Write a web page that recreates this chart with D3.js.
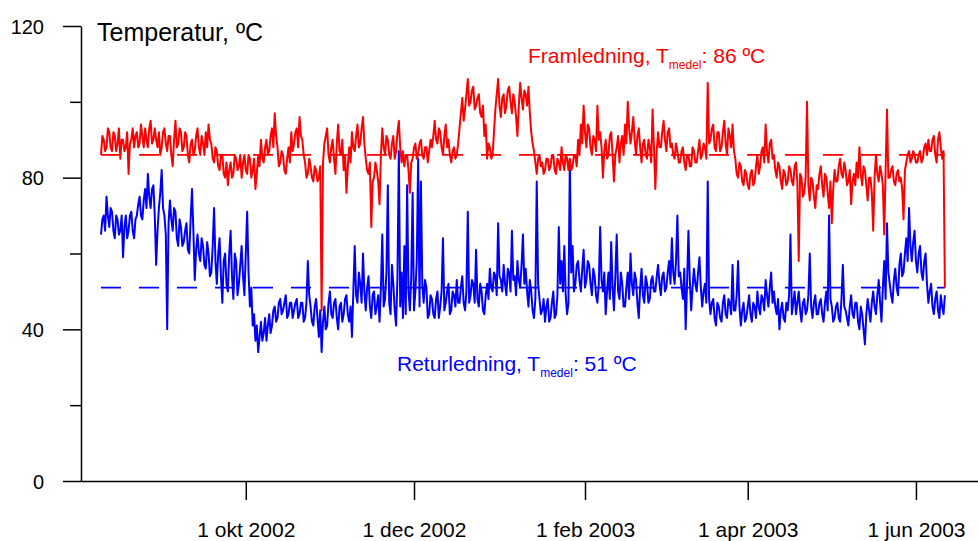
<!DOCTYPE html>
<html>
<head>
<meta charset="utf-8">
<script src="https://cdn.jsdelivr.net/npm/d3@7"></script>
<style>
  html, body { margin: 0; padding: 0; background: #fff; }
  svg { display: block; }
  text { font-family: "Liberation Sans", Arial, sans-serif; }
</style>
</head>
<body>
<svg id="chart" width="978" height="541"></svg>
<script>
// ---- data: two readings per day (00h-ish and 12h later), first day 9 Aug 2002 ----
const startDate = Date.UTC(2002, 7, 9, 12);
const supplyTemp = [
  86, 90, 88, 92, 87, 91, 89, 85, 90, 88,
  81, 90, 88, 92, 89, 91, 93, 88, 95, 90,
  90, 92, 88, 93, 87, 91, 83, 95, 89, 92,
  88, 91, 84, 90, 87, 93, 86, 89, 92, 94,
  89, 84, 87, 82, 86, 80, 78, 84, 81, 85,
  83, 80, 86, 81, 85, 82, 77, 86, 90, 84,
  90, 87, 93, 97, 88, 84, 86, 81, 88, 92,
  89, 93, 96, 90, 84, 81, 83, 79, 82, 80,
  45, 89, 93, 84, 90, 81, 94, 86, 82, 76,
  88, 92, 87, 94, 89, 96, 85, 81, 67, 80,
  82, 73, 93, 86, 90, 85, 91, 87, 95, 84,
  83, 86, 76, 85, 89, 86, 90, 85, 88, 87,
  88, 95, 89, 92, 86, 94, 90, 84, 88, 86,
  93, 101, 98, 106, 100, 104, 99, 102, 96, 91,
  85, 88, 86, 98, 106, 96, 102, 99, 104, 97,
  100, 91, 105, 98, 102, 104, 92, 87, 81, 86,
  84, 82, 85, 83, 86, 81, 84, 88, 82, 85,
  85, 83, 86, 90, 94, 99, 88, 93, 86, 90,
  99, 92, 80, 90, 86, 92, 79, 88, 84, 91,
  94, 100, 89, 96, 86, 93, 84, 90, 85, 88,
  98, 77, 92, 88, 95, 87, 93, 89, 85, 87,
  84, 88, 82, 86, 83, 87, 84, 90, 86, 88,
  105, 90, 94, 87, 92, 88, 95, 86, 91, 94,
  85, 80, 83, 78, 81, 77, 82, 79, 86, 83,
  88, 94, 84, 90, 86, 80, 83, 77, 81, 79,
  82, 78, 84, 58, 80, 76, 100, 74, 79, 72,
  77, 83, 75, 80, 72, 68, 82, 79, 85, 80,
  82, 79, 73, 81, 84, 88, 78, 82, 74, 80,
  66, 86, 79, 81, 65, 98, 80, 83, 78, 82,
  80, 69, 84, 87, 85, 86, 84, 87, 85, 89,
  90, 87, 91, 84, 92, 85, 51
];
const supplyTempHalfDay = [
  91, 87, 93, 88, 92, 87, 93, 90, 87, 92,
  89, 93, 91, 88, 94, 88, 90, 93, 89, 93,
  88, 86, 92, 89, 91, 86, 90, 88, 93, 87,
  92, 86, 89, 86, 91, 88, 91, 86, 88, 90,
  85, 88, 83, 86, 81, 84, 82, 80, 86, 82,
  86, 84, 82, 86, 80, 85, 81, 83, 85, 88,
  86, 91, 88, 91, 83, 87, 82, 85, 84, 87,
  92, 88, 91, 86, 80, 85, 80, 83, 79, 83,
  84, 91, 86, 88, 85, 89, 87, 90, 86, 83,
  84, 88, 91, 88, 93, 89, 82, 84, 79, 84,
  79, 86, 88, 91, 86, 89, 85, 92, 88, 87,
  86, 82, 84, 88, 85, 89, 86, 88, 84, 90,
  91, 90, 93, 88, 91, 88, 86, 87, 85, 89,
  97, 95, 102, 99, 103, 98, 101, 97, 99, 94,
  89, 85, 92, 102, 99, 101, 97, 103, 100, 102,
  96, 99, 101, 103, 99, 97, 89, 84, 85, 83,
  81, 85, 82, 86, 82, 85, 82, 84, 86, 82,
  82, 86, 83, 86, 89, 92, 94, 88, 91, 87,
  90, 88, 87, 85, 91, 86, 86, 91, 89, 86,
  89, 93, 92, 90, 91, 88, 89, 86, 90, 84,
  88, 87, 88, 92, 90, 92, 88, 86, 89, 84,
  87, 84, 86, 83, 88, 84, 87, 85, 89, 85,
  89, 93, 88, 92, 87, 92, 89, 93, 88, 87,
  81, 84, 79, 82, 78, 81, 78, 83, 81, 87,
  84, 87, 89, 85, 82, 84, 79, 82, 78, 83,
  79, 83, 79, 81, 75, 80, 78, 80, 75, 78,
  81, 78, 81, 76, 79, 77, 79, 83, 81, 84,
  78, 82, 79, 78, 80, 81, 83, 78, 80, 76,
  80, 81, 83, 78, 82, 80, 82, 79, 81, 79,
  77, 82, 86, 84, 87, 84, 86, 84, 88, 86,
  87, 90, 86, 90, 88, 87
];
const returnTemp = [
  65, 70, 75, 67, 71, 64, 69, 66, 59, 70,
  66, 71, 64, 70, 75, 69, 77, 81, 72, 78,
  57, 72, 82, 70, 40, 74, 66, 71, 62, 67,
  63, 68, 60, 77, 53, 65, 58, 62, 56, 60,
  55, 72, 52, 64, 47, 60, 50, 66, 48, 58,
  52, 62, 49, 71, 46, 41, 37, 34, 42, 39,
  37, 44, 41, 46, 43, 48, 45, 49, 44, 47,
  45, 48, 44, 47, 43, 58, 46, 41, 48, 38,
  34, 46, 41, 50, 43, 48, 40, 47, 44, 49,
  42, 38, 62, 47, 52, 60, 45, 54, 43, 50,
  46, 42, 65, 48, 78, 44, 52, 41, 87, 55,
  62, 78, 45, 76, 50, 85, 79, 47, 51, 44,
  48, 43, 50, 46, 64, 47, 52, 45, 49, 53,
  47, 54, 45, 71, 49, 52, 61, 46, 50, 44,
  52, 56, 50, 54, 68, 53, 57, 49, 55, 66,
  54, 58, 51, 65, 56, 46, 50, 43, 79, 48,
  45, 42, 48, 43, 50, 44, 67, 58, 62, 44,
  84, 62, 52, 58, 50, 61, 53, 57, 49, 54,
  47, 67, 50, 44, 55, 63, 45, 65, 48, 52,
  46, 55, 60, 49, 53, 43, 56, 47, 52, 48,
  54, 50, 57, 49, 55, 51, 58, 64, 52, 70,
  55, 48, 40, 66, 45, 56, 50, 59, 46, 52,
  79, 44, 48, 41, 46, 42, 49, 43, 47, 57,
  45, 58, 41, 47, 43, 49, 42, 46, 50, 44,
  48, 53, 46, 55, 50, 44, 40, 47, 42, 45,
  65, 47, 44, 50, 42, 48, 45, 60, 43, 49,
  44, 48, 42, 50, 70, 46, 43, 47, 42, 57,
  45, 41, 49, 43, 47, 40, 44, 36, 48, 42,
  50, 44, 53, 42, 58, 68, 52, 47, 56, 49,
  60, 55, 64, 72, 58, 66, 55, 62, 53, 60,
  47, 52, 44, 50, 43, 46, 49
];
const returnTempHalfDay = [
  69, 66, 70, 72, 66, 70, 65, 70, 67, 64,
  70, 66, 69, 73, 70, 74, 72, 75, 77, 70,
  66, 76, 72, 65, 68, 69, 72, 64, 69, 62,
  66, 61, 69, 66, 61, 60, 64, 57, 63, 54,
  62, 58, 60, 54, 58, 52, 60, 54, 60, 49,
  57, 54, 60, 55, 51, 44, 41, 38, 37, 43,
  41, 39, 45, 42, 47, 44, 47, 43, 47, 43,
  47, 43, 47, 42, 47, 49, 42, 46, 43, 45,
  42, 40, 47, 44, 47, 43, 46, 42, 48, 44,
  46, 50, 49, 55, 47, 50, 51, 46, 49, 44,
  49, 51, 46, 55, 47, 57, 45, 54, 46, 43,
  44, 50, 54, 45, 58, 46, 52, 53, 43, 49,
  44, 48, 43, 50, 45, 50, 44, 50, 46, 47,
  51, 47, 50, 47, 53, 47, 48, 52, 45, 49,
  48, 51, 55, 49, 54, 50, 52, 56, 50, 53,
  49, 53, 57, 52, 50, 53, 45, 48, 52, 44,
  48, 46, 42, 47, 43, 49, 52, 50, 49, 47,
  55, 50, 57, 53, 56, 51, 58, 52, 56, 49,
  52, 53, 55, 50, 48, 51, 54, 50, 55, 46,
  51, 48, 52, 55, 47, 51, 49, 54, 47, 53,
  50, 54, 52, 54, 50, 55, 52, 55, 58, 54,
  51, 56, 52, 53, 51, 52, 55, 51, 50, 47,
  48, 47, 43, 47, 43, 47, 44, 48, 44, 45,
  49, 46, 45, 42, 46, 44, 47, 43, 46, 49,
  45, 49, 51, 47, 46, 48, 45, 43, 47, 49,
  44, 50, 47, 45, 47, 44, 49, 46, 47, 44,
  47, 44, 47, 45, 48, 42, 46, 43, 48, 46,
  43, 46, 44, 47, 42, 46, 40, 44, 45, 47,
  46, 49, 47, 51, 48, 55, 49, 53, 51, 57,
  54, 60, 58, 62, 63, 58, 60, 55, 58, 52,
  50, 46, 48, 45, 49, 44
];
const supplyMean = 86;
const returnMean = 51;
const xTickDates = [Date.UTC(2002, 9, 1), Date.UTC(2002, 11, 1), Date.UTC(2003, 1, 1), Date.UTC(2003, 3, 1), Date.UTC(2003, 5, 1)];
const xTickLabels = ["1 okt 2002", "1 dec 2002", "1 feb 2003", "1 apr 2003", "1 jun 2003"];
const yMajorTicks = [0, 40, 80, 120];
const yMinorTicks = [20, 60, 100];
const titleText = "Temperatur, ºC";
const supplyLabel = ["Framledning, T", "medel", ": 86 ºC"];
const returnLabel = ["Returledning, T", "medel", ": 51 ºC"];

// ---- chart ----
const svg = d3.select("#chart");
const DAY = 86400000;
const x = d3.scaleUtc()
  .domain([new Date(Date.UTC(2002, 7, 2, 6)), new Date(Date.UTC(2003, 5, 23, 12))])
  .range([81, 978]);
const y = d3.scaleLinear().domain([0, 120]).range([481, 26]);

function toPts(a, b) {
  const pts = [];
  a.forEach((v, i) => {
    pts.push({ t: new Date(startDate + i * DAY), v });
    if (i < b.length) pts.push({ t: new Date(startDate + i * DAY + DAY / 2), v: b[i] });
  });
  return pts;
}
const supplyPts = toPts(supplyTemp, supplyTempHalfDay);
const returnPts = toPts(returnTemp, returnTempHalfDay);
const tFirst = supplyPts[0].t, tLast = supplyPts[supplyPts.length - 1].t;

const line = d3.line().x(d => x(d.t)).y(d => y(d.v));

// mean dashed lines
[[supplyMean, "#ff0000"], [returnMean, "#0000ff"]].forEach(([m, c]) => {
  svg.append("line")
    .attr("x1", x(tFirst)).attr("x2", x(tLast))
    .attr("y1", y(m)).attr("y2", y(m))
    .attr("stroke", c).attr("stroke-width", 1.6)
    .attr("stroke-dasharray", "20,18");
});

svg.append("path").datum(returnPts).attr("d", line)
  .attr("fill", "none").attr("stroke", "#0000ff").attr("stroke-width", 2)
  .attr("stroke-linejoin", "round");
svg.append("path").datum(supplyPts).attr("d", line)
  .attr("fill", "none").attr("stroke", "#ff0000").attr("stroke-width", 2)
  .attr("stroke-linejoin", "round");

// axes
const yAxis = svg.append("g").attr("transform", "translate(81,0)")
  .call(d3.axisLeft(y).tickValues(yMajorTicks).tickSize(18).tickSizeOuter(0).tickPadding(19));
const yMinor = svg.append("g").attr("transform", "translate(81,0)")
  .call(d3.axisLeft(y).tickValues(yMinorTicks).tickSize(11).tickSizeOuter(0).tickFormat(""));
yMinor.select(".domain").remove();

const xAxis = svg.append("g").attr("transform", "translate(0,481)")
  .call(d3.axisBottom(x).tickValues(xTickDates.map(d => new Date(d)))
    .tickFormat((d, i) => xTickLabels[i]).tickSize(19).tickSizeOuter(0));

[yAxis, yMinor, xAxis].forEach(g => {
  g.selectAll("path, line").attr("stroke", "#000").attr("stroke-width", 1.5);
  g.selectAll("text").attr("fill", "#000").style("font-size", "20px")
    .style("font-family", "'Liberation Sans', Arial, sans-serif");
});
yAxis.selectAll("text").attr("dy", "0.35em");
xAxis.selectAll("text").attr("y", 56).attr("dy", 0).style("font-size", "21px");

// title
svg.append("text").attr("x", 97).attr("y", 41)
  .style("font-size", "25px").attr("fill", "#000").text(titleText);

function label(parts, xPos, yPos, color) {
  const t = svg.append("text").attr("x", xPos).attr("y", yPos)
    .attr("fill", color).style("font-size", "21px");
  t.append("tspan").text(parts[0]);
  t.append("tspan").attr("dy", 6).style("font-size", "12px").text(parts[1]);
  t.append("tspan").attr("dy", -6).text(parts[2]);
}
label(supplyLabel, 528, 63, "#ff0000");
label(returnLabel, 397, 371, "#0000ff");
</script>
</body>
</html>
